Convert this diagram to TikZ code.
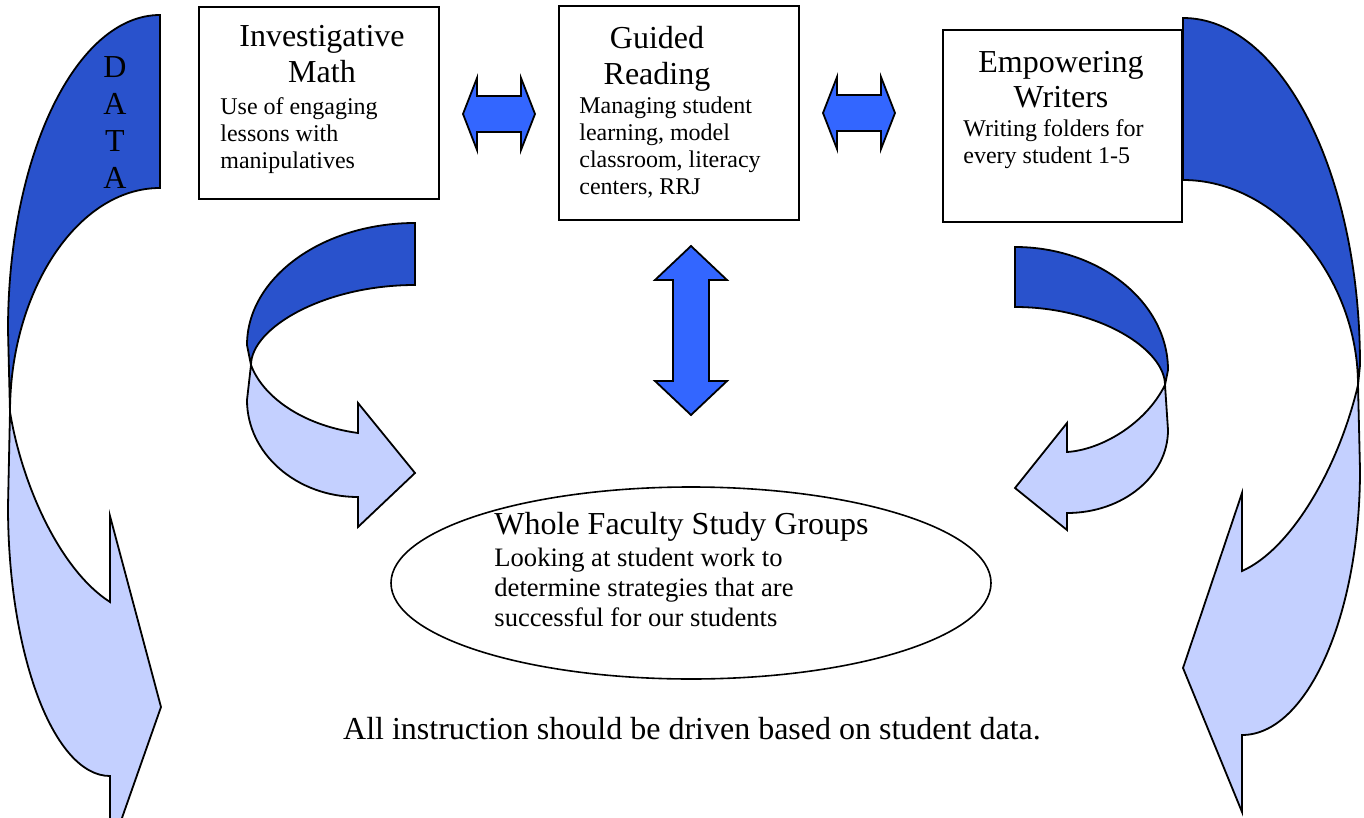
\documentclass[tikz,border=0pt]{standalone}
\usepackage{fontspec}
\setmainfont{Liberation Serif}
\usetikzlibrary{shapes.geometric}
\definecolor{backblue}{RGB}{41,82,204}
\definecolor{frontblue}{RGB}{196,208,255}
\definecolor{arrowblue}{RGB}{51,102,255}

\begin{document}
\begin{tikzpicture}[x=0.5pt, y=-0.5pt,
  box/.style={draw, line width=1pt, fill=white, inner sep=0},
  headtext/.style={anchor=north, inner sep=0, align=center, font=\fontsize{16}{18}\selectfont},
  bodytext/.style={anchor=north west, inner sep=0, align=left, font=\fontsize{12}{13.5}\selectfont},
  backband/.style={draw, line width=0.9pt, fill=backblue},
  frontband/.style={draw, line width=0.9pt, fill=frontblue},
  blockarrow/.style={draw, line width=0.9pt, fill=arrowblue}]
\clip (0,0) rectangle (1364,818); % page
\draw[backband] (160,15) -- (160,188) .. controls (77,188) and (10,292) .. (10,412) -- (8,330) .. controls (8,156) and (76,15) .. (160,15) -- cycle; % left, back
\draw[frontband] (10,412) .. controls (22,485) and (60,570) .. (110,602) -- (110,516) -- (161,707) -- (110,852) -- (110,776) .. controls (54,776) and (8,655) .. (8,506) -- cycle; % left, front
\node[inner sep=0, align=center, font=\fontsize{16}{18.5}\selectfont] (data) at (115,123) {D\\A\\T\\A};
\draw[backband] (1183,18) -- (1183,180) .. controls (1278,180) and (1358,279) .. (1358,385) -- (1360,365) .. controls (1360,173) and (1281,18) .. (1183,18) -- cycle; % right, back
\draw[frontband] (1358,385) .. controls (1338,470) and (1290,550) .. (1242,571) -- (1242,493) -- (1183,668) -- (1242,812) -- (1242,735) .. controls (1307,735) and (1360,616) .. (1360,470) -- cycle; % right, front
\draw[backband] (415,223) -- (415,285) .. controls (324,285) and (251,328) .. (251,365) -- (247,345) .. controls (247,278) and (322,223) .. (415,223) -- cycle; % math to groups, back
\draw[frontband] (251,365) .. controls (262,395) and (300,425) .. (358,433) -- (358,403) -- (415,473) -- (358,527) -- (358,497) .. controls (297,497) and (247,454) .. (247,400) -- cycle; % math to groups, front
\draw[backband] (1015,247) -- (1015,307) .. controls (1098,307) and (1165,349) .. (1165,385) -- (1168,370) .. controls (1168,302) and (1099,247) .. (1015,247) -- cycle; % writers to groups, back
\draw[frontband] (1165,385) .. controls (1145,425) and (1100,450) .. (1067,452) -- (1067,423) -- (1015,488) -- (1067,530) -- (1067,513) .. controls (1123,513) and (1168,476) .. (1168,430) -- cycle; % writers to groups, front
\foreach \cx/\cy in {499/114, 859/113}
  \draw[blockarrow, shift={(\cx,\cy)}] (-36,0) -- (-22,-36) -- (-22,-18) -- (22,-18) -- (22,-36) -- (36,0) -- (22,36) -- (22,18) -- (-22,18) -- (-22,36) -- cycle; % side arrows
\draw[blockarrow] (691,246) -- (727,280) -- (709,280) -- (709,381) -- (727,381) -- (691,415) -- (655,381) -- (673,381) -- (673,280) -- (655,280) -- cycle; % reading - groups
\node[box, minimum width=120pt, minimum height=96pt] (math) at (319,103) {};
\node[headtext] (mathhead) at (322,25) {Investigative\\Math};
\node[bodytext] (mathbody) at (220,97) {Use of engaging\\lessons with\\manipulatives};
\node[box, minimum width=120pt, minimum height=107pt] (reading) at (679,113) {};
\node[headtext] (readinghead) at (657,26) {Guided\\Reading};
\node[bodytext] (readingbody) at (579,96) {Managing student\\learning, model\\classroom, literacy\\centers, RRJ};
\node[box, minimum width=119.5pt, minimum height=96pt] (writers) at (1062.5,126) {};
\node[headtext] (writershead) at (1061,51) {Empowering\\[-0.5pt]Writers};
\node[bodytext] (writersbody) at (963,119) {Writing folders for\\every student 1-5};
\node[draw, ellipse, line width=0.8pt, inner sep=0, minimum width=300pt, minimum height=96pt] (groups) at (691,583) {};
\node[anchor=north west, inner sep=0, font=\fontsize{16}{18}\selectfont] (groupshead) at (494,512) {Whole Faculty Study Groups};
\node[bodytext, font=\fontsize{13.3}{15}\selectfont] (groupsbody) at (494,548) {Looking at student work to\\determine strategies that are\\successful for our students};
\node[inner sep=0, font=\fontsize{16}{18}\selectfont] (note) at (692,729) {All instruction should be driven based on student data.};
\end{tikzpicture}
\end{document}
